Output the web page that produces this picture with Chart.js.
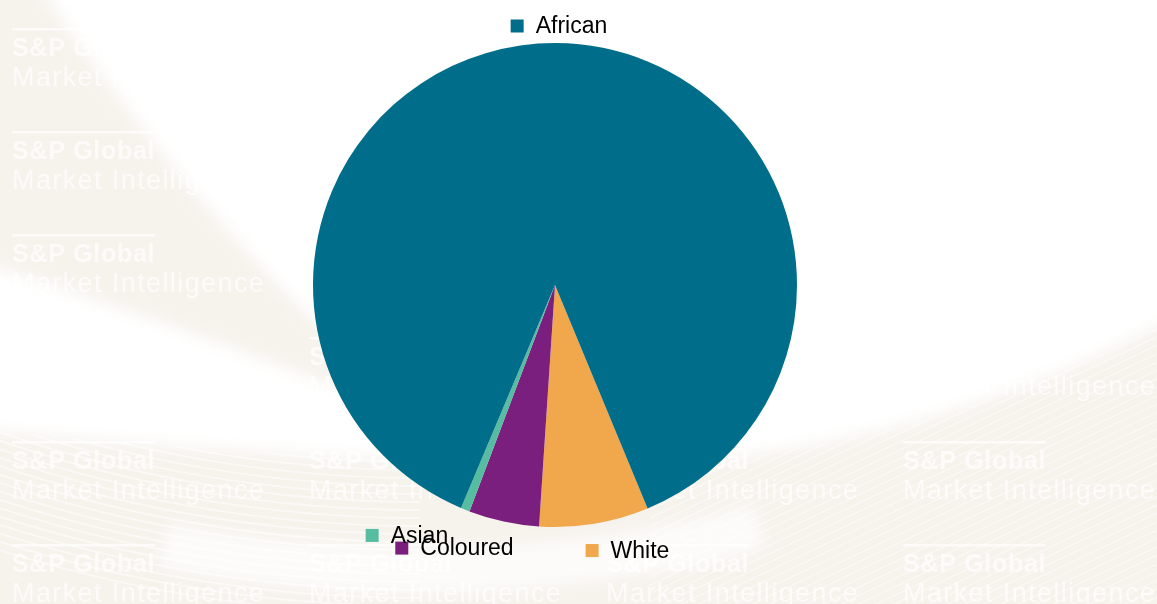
<!DOCTYPE html>
<html>
<head>
<meta charset="utf-8">
<script src="https://cdn.jsdelivr.net/npm/chart.js@4"></script>
<style>
  html, body { margin: 0; padding: 0; background: #fff; }
  #popChart { display: block; }
</style>
</head>
<body>
<canvas id="popChart" width="1157" height="604"></canvas>
<script>
// population groups, listed in the order the slices run clockwise
const groups = ['White', 'Coloured', 'Asian', 'African'];
const shares = [7.3, 4.7, 0.6, 87.4];
const groupColors = ['#f1a84c', '#7a1f7d', '#57bda0', '#006e8a'];

// nudges (px) so the bottom labels spread out instead of piling up
const labelShift = [[25, 9], [-35, 9], [-40, 9], [3, 1]];

const BEIGE = '#f6f2ec';

// soft beige swooshes and the repeated brand watermark behind the pie
const backdrop = {
    id: 'backdrop',
    beforeDraw(chart) {
        const c = chart.ctx, W = chart.width, H = chart.height;
        c.save();
        c.fillStyle = '#fff';
        c.fillRect(0, 0, W, H);

        c.filter = 'blur(8px)';
        c.fillStyle = BEIGE;
        // swoosh down the left side
        c.beginPath();
        c.moveTo(-20, -20);
        c.lineTo(35, -20);
        c.quadraticCurveTo(200, 230, 420, 420);
        c.quadraticCurveTo(200, 330, -20, 262);
        c.closePath();
        c.fill();

        // lower band
        const band = new Path2D();
        band.moveTo(-20, 430);
        band.quadraticCurveTo(400, 470, 700, 460);
        band.quadraticCurveTo(950, 440, 1180, 315);
        band.lineTo(W + 20, H + 20);
        band.lineTo(-20, H + 20);
        band.closePath();
        c.fill(band);

        // lighter sweep under the pie
        c.strokeStyle = 'rgba(255,255,255,0.7)';
        c.lineWidth = 46;
        c.beginPath();
        c.arc(420, -800, 1370, Math.PI * 0.42, Math.PI * 0.56);
        c.stroke();
        c.filter = 'none';

        // stripes inside the band
        c.save();
        c.clip(band);
        c.strokeStyle = 'rgba(255,255,255,0.5)';
        c.lineWidth = 2;
        for (let r = 1230; r < 1420; r += 8) {
            c.beginPath();
            c.arc(420, -800, r, Math.PI * 0.5, Math.PI * 0.95);
            c.stroke();
        }
        c.strokeStyle = 'rgba(255,255,255,0.45)';
        c.lineWidth = 1.5;
        for (let k = -400; k < 900; k += 7) {
            c.beginPath();
            c.moveTo(650, 620 + k * 1.2);
            c.lineTo(1157, 620 + k * 1.2 - 240);
            c.stroke();
        }
        c.restore();

        // watermark grid
        const cols = [12, 309, 606, 903];
        const rows = [29, 132, 235, 338, 442, 545];
        c.filter = 'blur(0.6px)';
        c.fillStyle = 'rgba(255,255,255,0.7)';
        c.textBaseline = 'alphabetic';
        cols.forEach(x => {
            rows.forEach(y => {
                c.fillRect(x, y - 1, 143, 2.5);
                c.font = 'bold 25px "Liberation Sans", Arial, sans-serif';
                c.letterSpacing = '0.7px';
                c.fillText('S&P Global', x, y + 27);
                c.font = '27px "Liberation Sans", Arial, sans-serif';
                c.letterSpacing = '1.4px';
                c.fillText('Market Intelligence', x, y + 57);
            });
        });
        c.letterSpacing = '0px';
        c.restore();
    }
};

// group name with a colour key, set just outside each slice
const sliceLabels = {
    id: 'sliceLabels',
    afterDatasetsDraw(chart, args, opts) {
        const c = chart.ctx;
        const meta = chart.getDatasetMeta(0);
        c.save();
        c.font = '23px "Liberation Sans", Arial, sans-serif';
        c.textBaseline = 'middle';
        c.textAlign = 'left';
        meta.data.forEach((arc, i) => {
            const p = arc.getProps(['x', 'y', 'startAngle', 'endAngle', 'outerRadius'], true);
            const mid = (p.startAngle + p.endAngle) / 2;
            const dx = Math.cos(mid), dy = Math.sin(mid);
            const text = chart.data.labels[i];
            const w = 25 + c.measureText(text).width, h = 20;
            const ax = p.x + (p.outerRadius + opts.pad) * dx;
            const ay = p.y + (p.outerRadius + opts.pad) * dy;
            const cx = ax + dx * w / 2 + opts.shift[i][0];
            const cy = ay + dy * h / 2 + opts.shift[i][1];
            const left = cx - w / 2;
            c.fillStyle = chart.data.datasets[0].backgroundColor[i];
            c.fillRect(left, cy - 6.5, 13, 13);
            c.fillStyle = '#000';
            c.fillText(text, left + 25, cy + 1);
        });
        c.restore();
    }
};

const ctx = document.getElementById('popChart').getContext('2d');
const popChart = new Chart(ctx, {
    type: 'pie',
    data: {
        labels: groups,
        datasets: [{
            data: shares,
            backgroundColor: groupColors,
            borderWidth: 0
        }]
    },
    options: {
        responsive: false,
        animation: false,
        rotation: 157.5,
        layout: {
            padding: { left: 313, right: 360, top: 43, bottom: 77 }
        },
        events: [],
        plugins: {
            legend: { display: false },
            tooltip: { enabled: false },
            sliceLabels: { pad: 8, shift: labelShift }
        }
    },
    plugins: [backdrop, sliceLabels]
});
</script>
</body>
</html>
